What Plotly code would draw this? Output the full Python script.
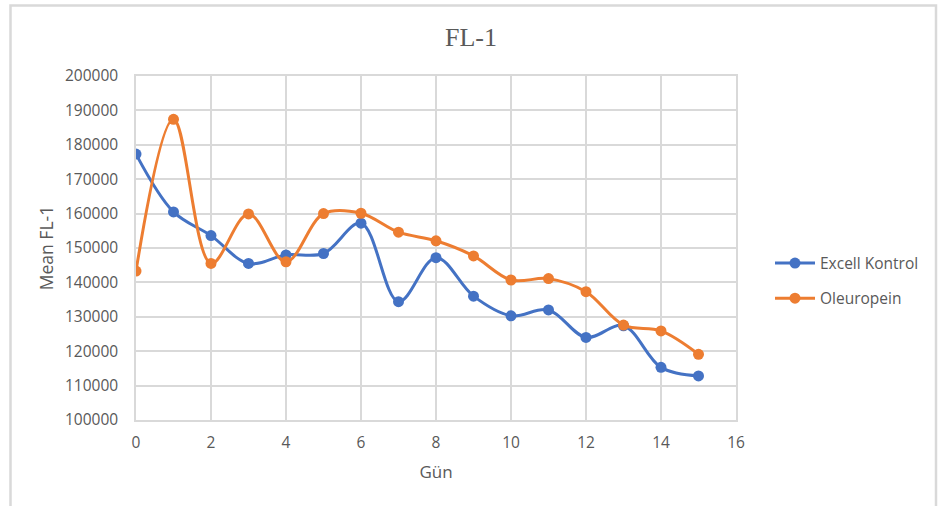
import plotly.graph_objects as go

# Day index and mean FL-1 fluorescence per group
days = list(range(16))
excell_kontrol = [177300, 160500, 153600, 145500, 148000, 148400, 157200, 134400,
                  147200, 136000, 130300, 132000, 124000, 127400, 115300, 112800]
oleuropein = [143300, 187400, 145500, 159900, 146000, 160000, 160100, 154600,
              152100, 147700, 140700, 141100, 137300, 127600, 125900, 119100]

x_ticks = list(range(0, 17, 2))
y_ticks = list(range(100000, 200001, 10000))

BLUE = "#4472C4"
ORANGE = "#ED7D31"
TEXT = "#595959"
GRID = "#D9D9D9"
FONT = "Open Sans"

fig = go.Figure()
for name, vals, color in [("Excell Kontrol", excell_kontrol, BLUE),
                          ("Oleuropein", oleuropein, ORANGE)]:
    fig.add_trace(go.Scatter(
        x=days, y=vals, name=name, legendgroup=name, mode="lines+markers",
        line=dict(color=color, width=3, shape="spline", smoothing=1.0),
        marker=dict(color=color, size=11),
    ))

W, H = 939, 506
L, R, T, B = 136, 203, 76, 86
pw, ph = W - L - R, H - T - B


def px_x(p):
    return (p - L) / pw


def px_y(p):
    return (H - B - p) / ph


fig.update_layout(
    width=W, height=H,
    margin=dict(l=L, r=R, t=T, b=B),
    paper_bgcolor="white", plot_bgcolor="white",
    font=dict(family=FONT, color=TEXT, size=15),
    title=dict(text="FL-1", xref="container", x=471 / W, xanchor="center",
               yref="container", y=1 - 37 / H, yanchor="middle",
               font=dict(family="Liberation Serif", size=26, color=TEXT)),
    xaxis=dict(range=[0, 16], tickvals=x_ticks, showgrid=True, gridcolor=GRID,
               gridwidth=1.5, zeroline=False, showline=True, linecolor=GRID,
               linewidth=1.5, mirror=True, ticks="", ticklabelstandoff=8,
               tickfont=dict(size=15.5, color=TEXT),
               title=dict(text="Gün", font=dict(size=17, color=TEXT), standoff=14)),
    yaxis=dict(range=[100000, 200000], tickvals=y_ticks, showgrid=True,
               gridcolor=GRID, gridwidth=1.5, zeroline=False, showline=True,
               linecolor=GRID, linewidth=1.5, mirror=True, ticks="",
               ticklabelstandoff=13, tickformat="d",
               tickfont=dict(size=15.5, color=TEXT),
               title=dict(text="Mean FL-1", font=dict(size=17.5, color=TEXT),
                          standoff=7)),
    legend=dict(x=px_x(770), xanchor="left", y=px_y(281), yanchor="middle",
                font=dict(size=15.5, color=TEXT), bgcolor="rgba(0,0,0,0)",
                tracegroupgap=12, itemwidth=40),
    showlegend=True,
)

# Chart frame
fig.add_shape(type="rect", xref="paper", yref="paper",
              x0=px_x(10.5), x1=px_x(936), y0=px_y(H + 10), y1=px_y(5.5),
              line=dict(color=GRID, width=2.5), fillcolor="rgba(0,0,0,0)",
              layer="below")

fig.write_html("out.html")
